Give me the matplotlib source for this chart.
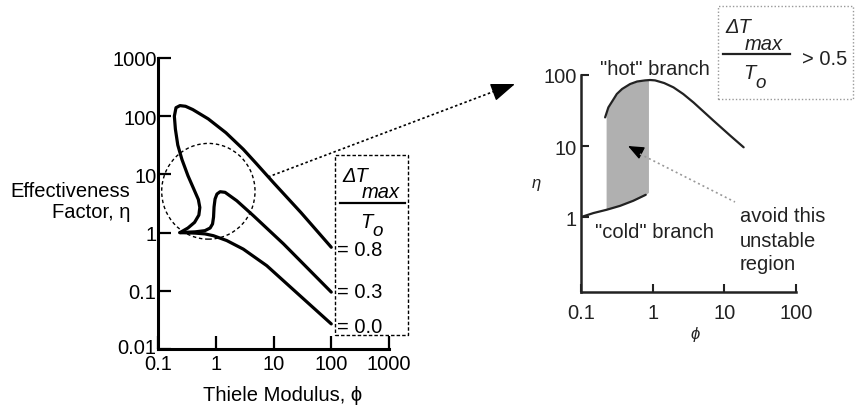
import matplotlib
matplotlib.use('Agg')
import matplotlib.pyplot as plt
from matplotlib.lines import Line2D
from matplotlib.patches import Ellipse, Rectangle, FancyArrowPatch
from matplotlib.transforms import ScaledTranslation

plt.rcParams['font.family'] = ['Liberation Sans', 'DejaVu Sans']
FS = 14.5
plt.rcParams['font.size'] = FS

# left chart: effectiveness factor vs Thiele modulus, three curves
phi_08 = [0.24, 0.33, 0.43, 0.51, 0.53, 0.50, 0.42, 0.33, 0.26, 0.22, 0.20, 0.192, 0.205,
          0.24, 0.30, 0.40, 0.74, 1.5, 3.0, 5.0, 10, 30, 100]
eta_08 = [1.0, 1.2, 1.5, 2.0, 2.7, 3.7, 5.5, 9.5, 18, 32, 60, 100, 140,
          152, 148, 130, 90, 52, 27, 15.5, 7.2, 2.2, 0.56]
phi_03 = [0.24, 0.44, 0.65, 0.80, 0.88, 0.916, 0.934, 0.973, 1.05, 1.19, 1.45, 2.31, 4.49, 14.9, 100]
eta_03 = [1.0, 1.03, 1.08, 1.2, 1.41, 1.85, 2.75, 3.78, 4.6, 5.04, 4.92, 3.53, 1.95, 0.64, 0.095]
phi_00 = [0.24, 0.44, 0.65, 0.91, 1.55, 3.0, 7.65, 28.9, 100]
eta_00 = [1.0, 0.98, 0.95, 0.885, 0.73, 0.52, 0.27, 0.082, 0.027]
left_ticks = [0.1, 1, 10, 100, 1000]
left_xlabels = ['0.1', '1', '10', '100', '1000']
left_yticks = [0.01, 0.1, 1, 10, 100, 1000]
left_ylabels = ['0.01', '0.1', '1', '10', '100', '1000']
curve_labels = ['= 0.8', '= 0.3', '= 0.0']

# right chart: hot / cold branch and the unstable region
hot_phi = [0.217, 0.241, 0.316, 0.374, 0.484, 0.607, 0.785, 0.92, 1.08, 1.45, 1.95, 2.67, 3.72,
           7.08, 12.1, 18.6]
hot_eta = [25.3, 35, 54, 63.5, 74.6, 81, 84, 85, 84, 77, 67, 54, 41, 22.7, 14, 9.6]
cold_phi = [0.1, 0.149, 0.229, 0.351, 0.538, 0.80]
cold_eta = [1.0, 1.14, 1.27, 1.44, 1.70, 2.06]
shade_phi = [0.224, 0.241, 0.3, 0.374, 0.484, 0.607, 0.785, 0.873]
shade_lo = [1.28, 1.31, 1.40, 1.50, 1.64, 1.80, 2.04, 2.23]
shade_hi = [28, 35, 50, 63.5, 74.6, 81, 84, 85]
right_xticks = [0.1, 1, 10, 100]
right_xlabels = ['0.1', '1', '10', '100']
right_yticks = [1, 10, 100]
right_ylabels = ['1', '10', '100']

W, H = 855, 410


def fx(px):
    return px / W


def fy(py):
    return 1 - py / H


def line(x0, y0, x1, y1, **kw):
    fig.add_artist(Line2D([fx(x0), fx(x1)], [fy(y0), fy(y1)], transform=fig.transFigure, **kw))


def ratio_label(x0, y0, width, color):
    # dT_max / T_o fraction drawn as separate italic pieces
    fig.text(fx(x0 + 2), fy(y0 - 22), 'ΔT', style='italic', color=color, va='baseline')
    fig.text(fx(x0 + 22), fy(y0 - 5.5), 'max', style='italic', color=color, va='baseline')
    line(x0, y0, x0 + width, y0, color=color, lw=1.6)
    fig.text(fx(x0 + 20), fy(y0 + 24), 'T', style='italic', color=color, va='baseline')
    fig.text(fx(x0 + 32), fy(y0 + 32.5), 'o', style='italic', color=color, va='baseline',
             fontsize=FS - 1)


fig = plt.figure(figsize=(8.55, 4.1), dpi=100)

# ---- left chart
ax1 = fig.add_axes([fx(158), fy(350), (389 - 158) / W, (350 - 59) / H])
ax1.set_xscale('log')
ax1.set_yscale('log')
for p, e in [(phi_08, eta_08), (phi_03, eta_03), (phi_00, eta_00)]:
    ax1.plot(p, e, color='k', lw=2.3, solid_capstyle='round', solid_joinstyle='round')
ax1.set_xlim(0.1, 1000)
ax1.set_ylim(0.01, 1000)
ax1.set_xticks(left_ticks, left_xlabels)
ax1.set_yticks(left_yticks, left_ylabels)
ax1.minorticks_off()
ax1.tick_params(direction='in', length=9.5, width=1.6, colors='k', labelsize=FS)
ax1.tick_params(axis='y', pad=1)
ax1.tick_params(axis='x', pad=3.5)
for s in ['top', 'right']:
    ax1.spines[s].set_visible(False)
for s in ['left', 'bottom']:
    ax1.spines[s].set_linewidth(2.2)
ax1.patch.set_alpha(0)
# lift the 0.01 label a little off the 0.1 label below it
lab = ax1.get_yticklabels()[0]
lab.set_transform(lab.get_transform() + ScaledTranslation(0, 3 / 100, fig.dpi_scale_trans))

ax1.add_patch(Ellipse((0.218, 0.542), 0.404, 0.329, transform=ax1.transAxes, fill=False,
                      ls=(0, (2.5, 2)), lw=1.0, color='k', clip_on=False))

fig.text(fx(130), fy(196.7), 'Effectiveness', ha='right', va='baseline')
fig.text(fx(130), fy(217.7), 'Factor, η', ha='right', va='baseline')
fig.text(fx(283), fy(400.7), 'Thiele Modulus, ϕ', ha='center', va='baseline')

fig.add_artist(Rectangle((fx(335), fy(336)), 73 / W, 180 / H, transform=fig.transFigure,
                         fill=False, ls=(0, (2.5, 1.5)), lw=1.0, ec='k'))
ratio_label(340, 204, 65, 'k')
for txt, base in zip(curve_labels, [256, 298.3, 333.3]):
    fig.text(fx(337), fy(base), txt, va='baseline')

# dotted arrow from the circled region to the zoomed chart
line(268, 178, 503, 89, color='k', lw=1.2, ls=(0, (1.5, 1.5)))
fig.add_artist(FancyArrowPatch(
    (fx(500), fy(90.6)), (fx(515), fy(85)), transform=fig.transFigure,
    arrowstyle='-|>,head_length=0.75,head_width=0.28', mutation_scale=20,
    color='k', lw=1, shrinkA=0, shrinkB=0))

# ---- right chart
tc = '#222222'
ax2 = fig.add_axes([fx(581), fy(292.7), (796 - 581) / W, (292.7 - 76) / H])
ax2.set_xscale('log')
ax2.set_yscale('log')
ax2.fill_between(shade_phi, shade_lo, shade_hi, color='#b0b0b0', lw=0)
ax2.plot(hot_phi, hot_eta, color=tc, lw=1.6, solid_capstyle='round')
ax2.plot(cold_phi, cold_eta, color=tc, lw=1.6, solid_capstyle='round')
ax2.set_xlim(0.1, 100)
ax2.set_ylim(10 ** -1.05, 100)
ax2.set_xticks(right_xticks, right_xlabels)
ax2.set_yticks(right_yticks, right_ylabels)
ax2.minorticks_off()
ax2.tick_params(direction='in', length=6, width=1.5, colors=tc, labelsize=FS)
ax2.tick_params(axis='y', pad=3)
ax2.tick_params(axis='x', pad=8)
for s in ['top', 'right']:
    ax2.spines[s].set_visible(False)
for s in ['left', 'bottom']:
    ax2.spines[s].set_linewidth(1.8)
    ax2.spines[s].set_color(tc)
ax2.patch.set_alpha(0)

fig.text(fx(536.7), fy(183.3), 'η', style='italic', fontsize=12, color=tc, ha='center', va='center')
fig.text(fx(695), fy(335), 'ϕ', style='italic', fontsize=12, color=tc, ha='center', va='center')
fig.text(fx(600), fy(75), '"hot" branch', color=tc, va='baseline')
fig.text(fx(595), fy(238.3), '"cold" branch', color=tc, va='baseline')
for txt, base in zip(['avoid this', 'unstable', 'region'], [221.7, 246.7, 270]):
    fig.text(fx(740), fy(base), txt, color=tc, va='baseline')

# pointer into the unstable region
line(640, 155, 735, 203, color='#999999', lw=1.2, ls=(0, (1.2, 1.8)))
fig.add_artist(FancyArrowPatch(
    (fx(639), fy(152.6)), (fx(628), fy(147)), transform=fig.transFigure,
    arrowstyle='-|>,head_length=0.6,head_width=0.25', mutation_scale=16,
    color='k', lw=1, shrinkA=0, shrinkB=0))

fig.add_artist(Rectangle((fx(718), fy(100)), 135 / W, 93 / H, transform=fig.transFigure,
                         fill=False, ls=(0, (1, 1.5)), lw=1.0, ec='#999999'))
ratio_label(723, 55, 67, tc)
fig.text(fx(802), fy(65), '> 0.5', color=tc, va='baseline')

fig.savefig('out.png', dpi=100)
